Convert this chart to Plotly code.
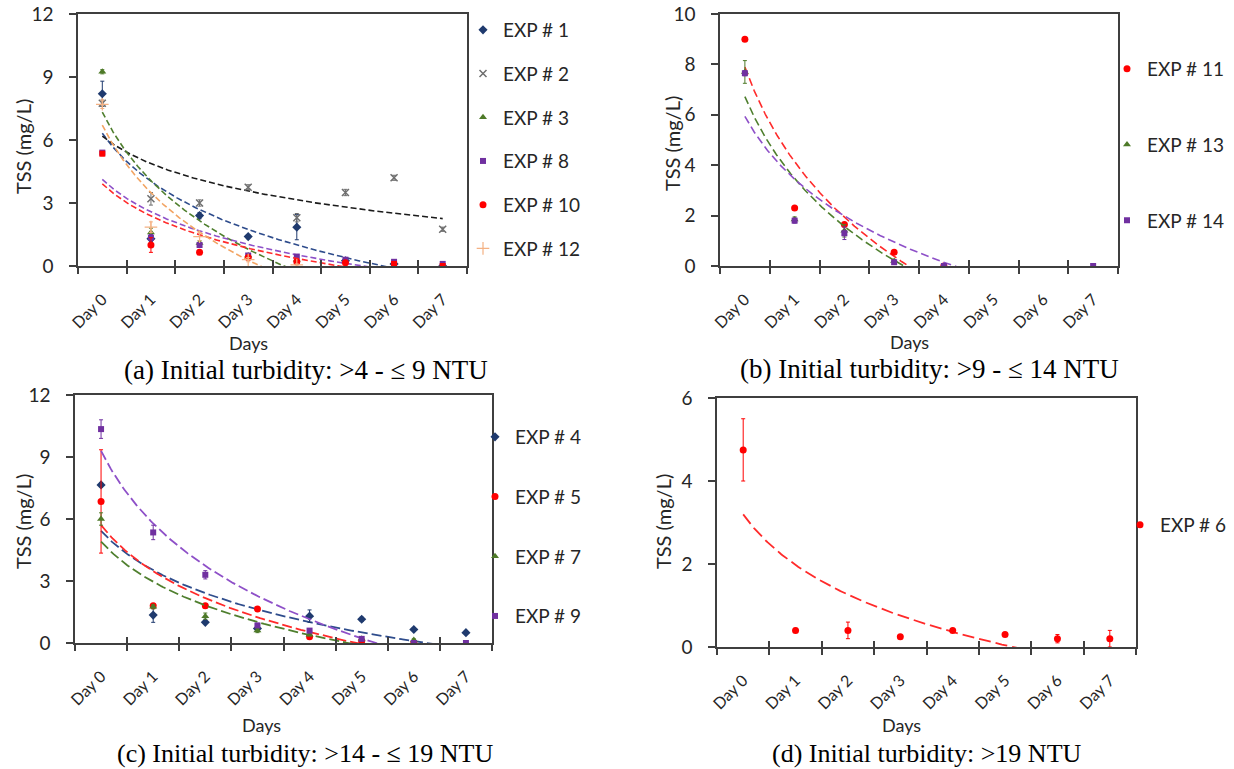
import numpy as np
import plotly.graph_objects as go

W, H = 1234, 769

DAYS = ["Day 0", "Day 1", "Day 2", "Day 3", "Day 4", "Day 5", "Day 6", "Day 7"]
DAY_POS = list(range(1, 9))          # category positions used for the log trendlines
N = None

# ---- (a) Initial turbidity >4 - <=9 NTU ----
a_exp1 = [8.2, 1.3, 2.4, 1.4, 1.85, 0.25, 0.1, 0.0]
a_exp1_err = [0.6, 0.15, 0.15, 0.1, 0.6, 0.05, 0.05, 0.0]
a_exp2 = [7.75, 3.2, 3.0, 3.75, 2.3, 3.5, 4.2, 1.75]
a_exp2_err = [0.15, 0.3, 0.15, 0.12, 0.2, 0.15, 0.12, 0.1]
a_exp3 = [9.25, 1.6, 1.1, 0.5, 0.3, 0.2, N, N]
a_exp3_err = [0.1, 0.2, 0.1, 0.05, 0.05, 0.05, N, N]
a_exp8 = [5.4, 1.35, 1.0, 0.5, 0.45, 0.3, 0.2, 0.1]
a_exp8_err = [0.1, 0.15, 0.1, 0.05, 0.05, 0.05, 0.05, 0.05]
a_exp10 = [5.35, 1.0, 0.65, 0.4, 0.2, 0.15, 0.1, 0.0]
a_exp10_err = [0.1, 0.35, 0.1, 0.1, 0.05, 0.05, 0.05, 0.0]
a_exp10_symbols = ["square", "circle", "circle", "circle", "circle", "circle",
                   "square", "square"]
a_exp12 = [7.7, 1.85, 1.4, 0.3, 0.05, N, N, N]
a_exp12_err = [0.2, 0.25, 0.2, 0.1, 0.05, N, N, N]

# ---- (b) Initial turbidity >9 - <=14 NTU ----
b_exp11 = [9.0, 2.3, 1.65, 0.55, 0.0, N, N, N]
b_exp11_err = [0.05, 0.05, 0.05, 0.05, 0.0, N, N, N]
b_exp13 = [7.7, 1.85, 1.4, 0.2, 0.0, N, N, N]
b_exp13_err = [0.45, 0.1, 0.25, 0.05, 0.0, N, N, N]
b_exp14 = [7.65, 1.8, 1.3, 0.15, 0.0, N, N, 0.0]
b_exp14_err = [0.1, 0.1, 0.25, 0.05, 0.0, N, N, 0.0]

# ---- (c) Initial turbidity >14 - <=19 NTU ----
c_exp4 = [7.65, 1.35, 1.0, 0.7, 1.3, 1.15, 0.65, 0.5]
c_exp4_err = [0.1, 0.35, 0.05, 0.05, 0.3, 0.1, 0.05, 0.05]
c_exp5 = [6.85, 1.8, 1.8, 1.65, 0.3, 0.1, 0.0, N]
c_exp5_err = [2.5, 0.1, 0.1, 0.05, 0.05, 0.05, 0.0, N]
c_exp7 = [6.0, 1.75, 1.3, 0.6, 0.4, 0.2, 0.15, N]
c_exp7_err = [0.3, 0.1, 0.15, 0.1, 0.05, 0.05, 0.05, N]
c_exp9 = [10.35, 5.35, 3.3, 0.85, 0.6, 0.2, 0.0, 0.0]
c_exp9_err = [0.45, 0.35, 0.2, 0.1, 0.05, 0.05, 0.0, 0.0]

# ---- (d) Initial turbidity >19 NTU ----
d_exp6 = [4.75, 0.4, 0.4, 0.25, 0.4, 0.3, 0.2, 0.2]
d_exp6_err = [0.75, 0.05, 0.2, 0.02, 0.03, 0.03, 0.1, 0.2]

NAVY = "#1F3A6E"
NAVY_LINE = "#2E4C8C"
GREEN = "#4E7A28"
GREEN_LINE = "#4F7F2E"
PURPLE = "#7030A0"
PURPLE_LINE = "#8E50C8"
RED = "#FF0000"
RED_LINE = "#FF2A2A"
GREY = "#6E6E6E"
ORANGE = "#F4B183"
ORANGE_LINE = "#F2A463"
AXIS = "#3F3F3F"
TEXT = "#262626"
FONT = "Lato"

fig = go.Figure()


def log_trend(values):
    """Least-squares logarithmic trendline y = a + b ln(x) over the category positions."""
    x = np.array(DAY_POS, dtype=float)
    y = np.array([np.nan if v is None else v for v in values], dtype=float)
    m = ~np.isnan(y)
    b, a = np.polyfit(np.log(x[m]), y[m], 1)
    xs = np.linspace(x[m].min(), x[m].max(), 300)
    return xs, a + b * np.log(xs)


def add_series(name, values, errs, symbol, color, line_color, axes, legend,
               size=7, dash="6px,3px", line_width=1.6, marker_line=None, symbols=None):
    xa, ya = axes
    xs, ys = log_trend(values)
    fig.add_trace(go.Scatter(
        x=xs, y=ys, mode="lines", xaxis=xa, yaxis=ya, showlegend=False,
        hoverinfo="skip", line=dict(color=line_color, width=line_width, dash=dash)))
    line = dict(color=color, width=marker_line) if marker_line else dict(width=0)
    if symbols is None:
        symbols = [symbol] * len(values)
    # points drawn with the series' own symbol carry the legend entry;
    # points formatted with a different symbol are drawn in the same group
    for sym in [symbol] + sorted(set(symbols) - {symbol}):
        idx = [i for i, s in enumerate(symbols) if s == sym]
        if not idx:
            continue
        fig.add_trace(go.Scatter(
            x=[DAY_POS[i] for i in idx], y=[values[i] for i in idx], mode="markers",
            name=name, xaxis=xa, yaxis=ya, legend=legend, legendgroup=name,
            showlegend=(sym == symbol),
            marker=dict(symbol=sym, color=color, size=size if sym == symbol else size - 1,
                        line=line),
            error_y=dict(type="data", array=[errs[i] for i in idx], visible=True,
                         color=color, thickness=1, width=2)))


A = ("x", "y")
B = ("x2", "y2")
C = ("x3", "y3")
D = ("x4", "y4")

add_series("EXP # 1", a_exp1, a_exp1_err, "diamond", NAVY, NAVY_LINE, A, "legend")
add_series("EXP # 2", a_exp2, a_exp2_err, "x-thin-open", GREY, "#1A1A1A", A, "legend",
           size=7, marker_line=1.5)
add_series("EXP # 3", a_exp3, a_exp3_err, "triangle-up", GREEN, GREEN_LINE, A, "legend")
add_series("EXP # 8", a_exp8, a_exp8_err, "square", PURPLE, PURPLE_LINE, A, "legend", size=6)
add_series("EXP # 10", a_exp10, a_exp10_err, "circle", RED, RED_LINE, A, "legend",
           symbols=a_exp10_symbols)
add_series("EXP # 12", a_exp12, a_exp12_err, "cross-thin-open", ORANGE, ORANGE_LINE, A,
           "legend", size=9, marker_line=1.2)

add_series("EXP # 11", b_exp11, b_exp11_err, "circle", RED, RED_LINE, B, "legend2",
           dash="8px,4px")
add_series("EXP # 13", b_exp13, b_exp13_err, "triangle-up", GREEN, GREEN_LINE, B, "legend2",
           dash="8px,4px")
add_series("EXP # 14", b_exp14, b_exp14_err, "square", PURPLE, PURPLE_LINE, B, "legend2",
           size=6, dash="8px,4px")

add_series("EXP # 4", c_exp4, c_exp4_err, "diamond", NAVY, NAVY_LINE, C, "legend3",
           dash="10px,4px", line_width=1.8)
add_series("EXP # 5", c_exp5, c_exp5_err, "circle", RED, RED_LINE, C, "legend3",
           dash="10px,4px", line_width=1.8)
add_series("EXP # 7", c_exp7, c_exp7_err, "triangle-up", GREEN, GREEN_LINE, C, "legend3",
           dash="10px,4px", line_width=1.8)
add_series("EXP # 9", c_exp9, c_exp9_err, "square", PURPLE, PURPLE_LINE, C, "legend3",
           size=6, dash="10px,4px", line_width=1.8)

add_series("EXP # 6", d_exp6, d_exp6_err, "circle", RED, RED_LINE, D, "legend4",
           dash="12px,5px", line_width=1.8)

# overlay axes carrying the inner half of the category separator ticks
for k, base in zip((5, 6, 7, 8), ("y", "y2", "y3", "y4")):
    fig.add_trace(go.Scatter(x=[None], y=[None], xaxis=f"x{k}", yaxis=base,
                             showlegend=False, hoverinfo="skip"))


def px_x(p):
    return p / W


def px_y(p):
    return 1 - p / H


panels = {
    # key: (left, right, top, bottom, ymax, dtick)
    "": (78, 467, 14, 266, 12, 3),
    "2": (720, 1118, 14, 266, 10, 2),
    "3": (75, 492, 395, 643, 12, 3),
    "4": (717, 1136, 398, 647, 6, 2),
}

layout = dict(
    template="none",
    width=W, height=H, margin=dict(l=0, r=0, t=0, b=0, autoexpand=False),
    paper_bgcolor="white", plot_bgcolor="white", showlegend=True,
    font=dict(family=FONT, color=TEXT),
)

boundaries = [i + 0.5 for i in range(0, 9)]
for (key, (l, r, t, b, ymax, dt)), ov in zip(panels.items(), (5, 6, 7, 8)):
    layout[f"xaxis{key}"] = dict(
        domain=[px_x(l), px_x(r)], anchor=f"y{key}", range=[0.5, 8.5], automargin=False,
        tickmode="array", tickvals=DAY_POS, ticktext=DAYS, tickangle=-45, ticks="",
        tickfont=dict(family=FONT, size=16, color=TEXT), ticklabelstandoff=16,
        showline=True, linecolor=AXIS, linewidth=1.5, mirror=True,
        showgrid=False, zeroline=False,
        minor=dict(tickmode="array", tickvals=boundaries, ticks="outside", ticklen=6,
                   tickcolor=AXIS, tickwidth=1.5, showgrid=False),
    )
    layout[f"xaxis{ov}"] = dict(
        overlaying=f"x{key}", anchor=f"y{key}", range=[0.5, 8.5], side="bottom",
        automargin=False,
        tickmode="array", tickvals=boundaries, ticks="inside", ticklen=6,
        tickcolor=AXIS, tickwidth=1.5, showticklabels=False, showline=False,
        showgrid=False, zeroline=False,
    )
    layout[f"yaxis{key}"] = dict(
        domain=[px_y(b), px_y(t)], anchor=f"x{key}", range=[0, ymax], automargin=False,
        tickmode="linear", tick0=0, dtick=dt, ticks="outside", ticklen=7,
        tickcolor=AXIS, tickwidth=1.5, tickfont=dict(family=FONT, size=19, color=TEXT),
        ticklabelstandoff=12,
        showline=True, linecolor=AXIS, linewidth=1.5, mirror=True,
        showgrid=False, zeroline=False,
    )

legend_common = dict(
    xanchor="left", yanchor="top", bgcolor="rgba(0,0,0,0)", borderwidth=0,
    font=dict(family=FONT, size=19, color=TEXT), traceorder="grouped",
    itemwidth=30,
)
layout["legend"] = dict(legend_common, x=px_x(463), y=px_y(11), tracegroupgap=16)
layout["legend2"] = dict(legend_common, x=px_x(1107), y=px_y(50), tracegroupgap=48)
layout["legend3"] = dict(legend_common, x=px_x(475), y=px_y(418), tracegroupgap=32)
layout["legend4"] = dict(legend_common, x=px_x(1120), y=px_y(506), tracegroupgap=10)

caption_font = dict(family="Liberation Serif", color="black")
captions = [
    ("(a) Initial turbidity: >4 - \u2264 9 NTU", 306, 370, 27),
    ("(b) Initial turbidity: >9 - \u2264 14 NTU", 929, 369, 27),
    ("(c) Initial turbidity: >14 - \u2264 19 NTU", 305, 753, 26),
    ("(d) Initial turbidity: >19 NTU", 927, 753, 26),
]
days_titles = [(248, 343), (909, 342), (261, 725), (902, 725)]
tss_titles = [(23, 147), (672, 143), (23, 522), (663, 522)]

annotations = [
    dict(text=t, x=px_x(cx), y=px_y(cy), xref="paper", yref="paper",
         xanchor="center", yanchor="middle", showarrow=False,
         font=dict(caption_font, size=fs))
    for t, cx, cy, fs in captions
]
annotations += [
    dict(text="Days", x=px_x(cx), y=px_y(cy), xref="paper", yref="paper",
         xanchor="center", yanchor="middle", showarrow=False,
         font=dict(family=FONT, size=18, color=TEXT))
    for cx, cy in days_titles
]
annotations += [
    dict(text="TSS (mg/L)", x=px_x(cx), y=px_y(cy), xref="paper", yref="paper",
         xanchor="center", yanchor="middle", showarrow=False, textangle=-90,
         font=dict(family=FONT, size=20, color=TEXT))
    for cx, cy in tss_titles
]
layout["annotations"] = annotations

fig.update_layout(**layout)
fig.write_html("out.html")
